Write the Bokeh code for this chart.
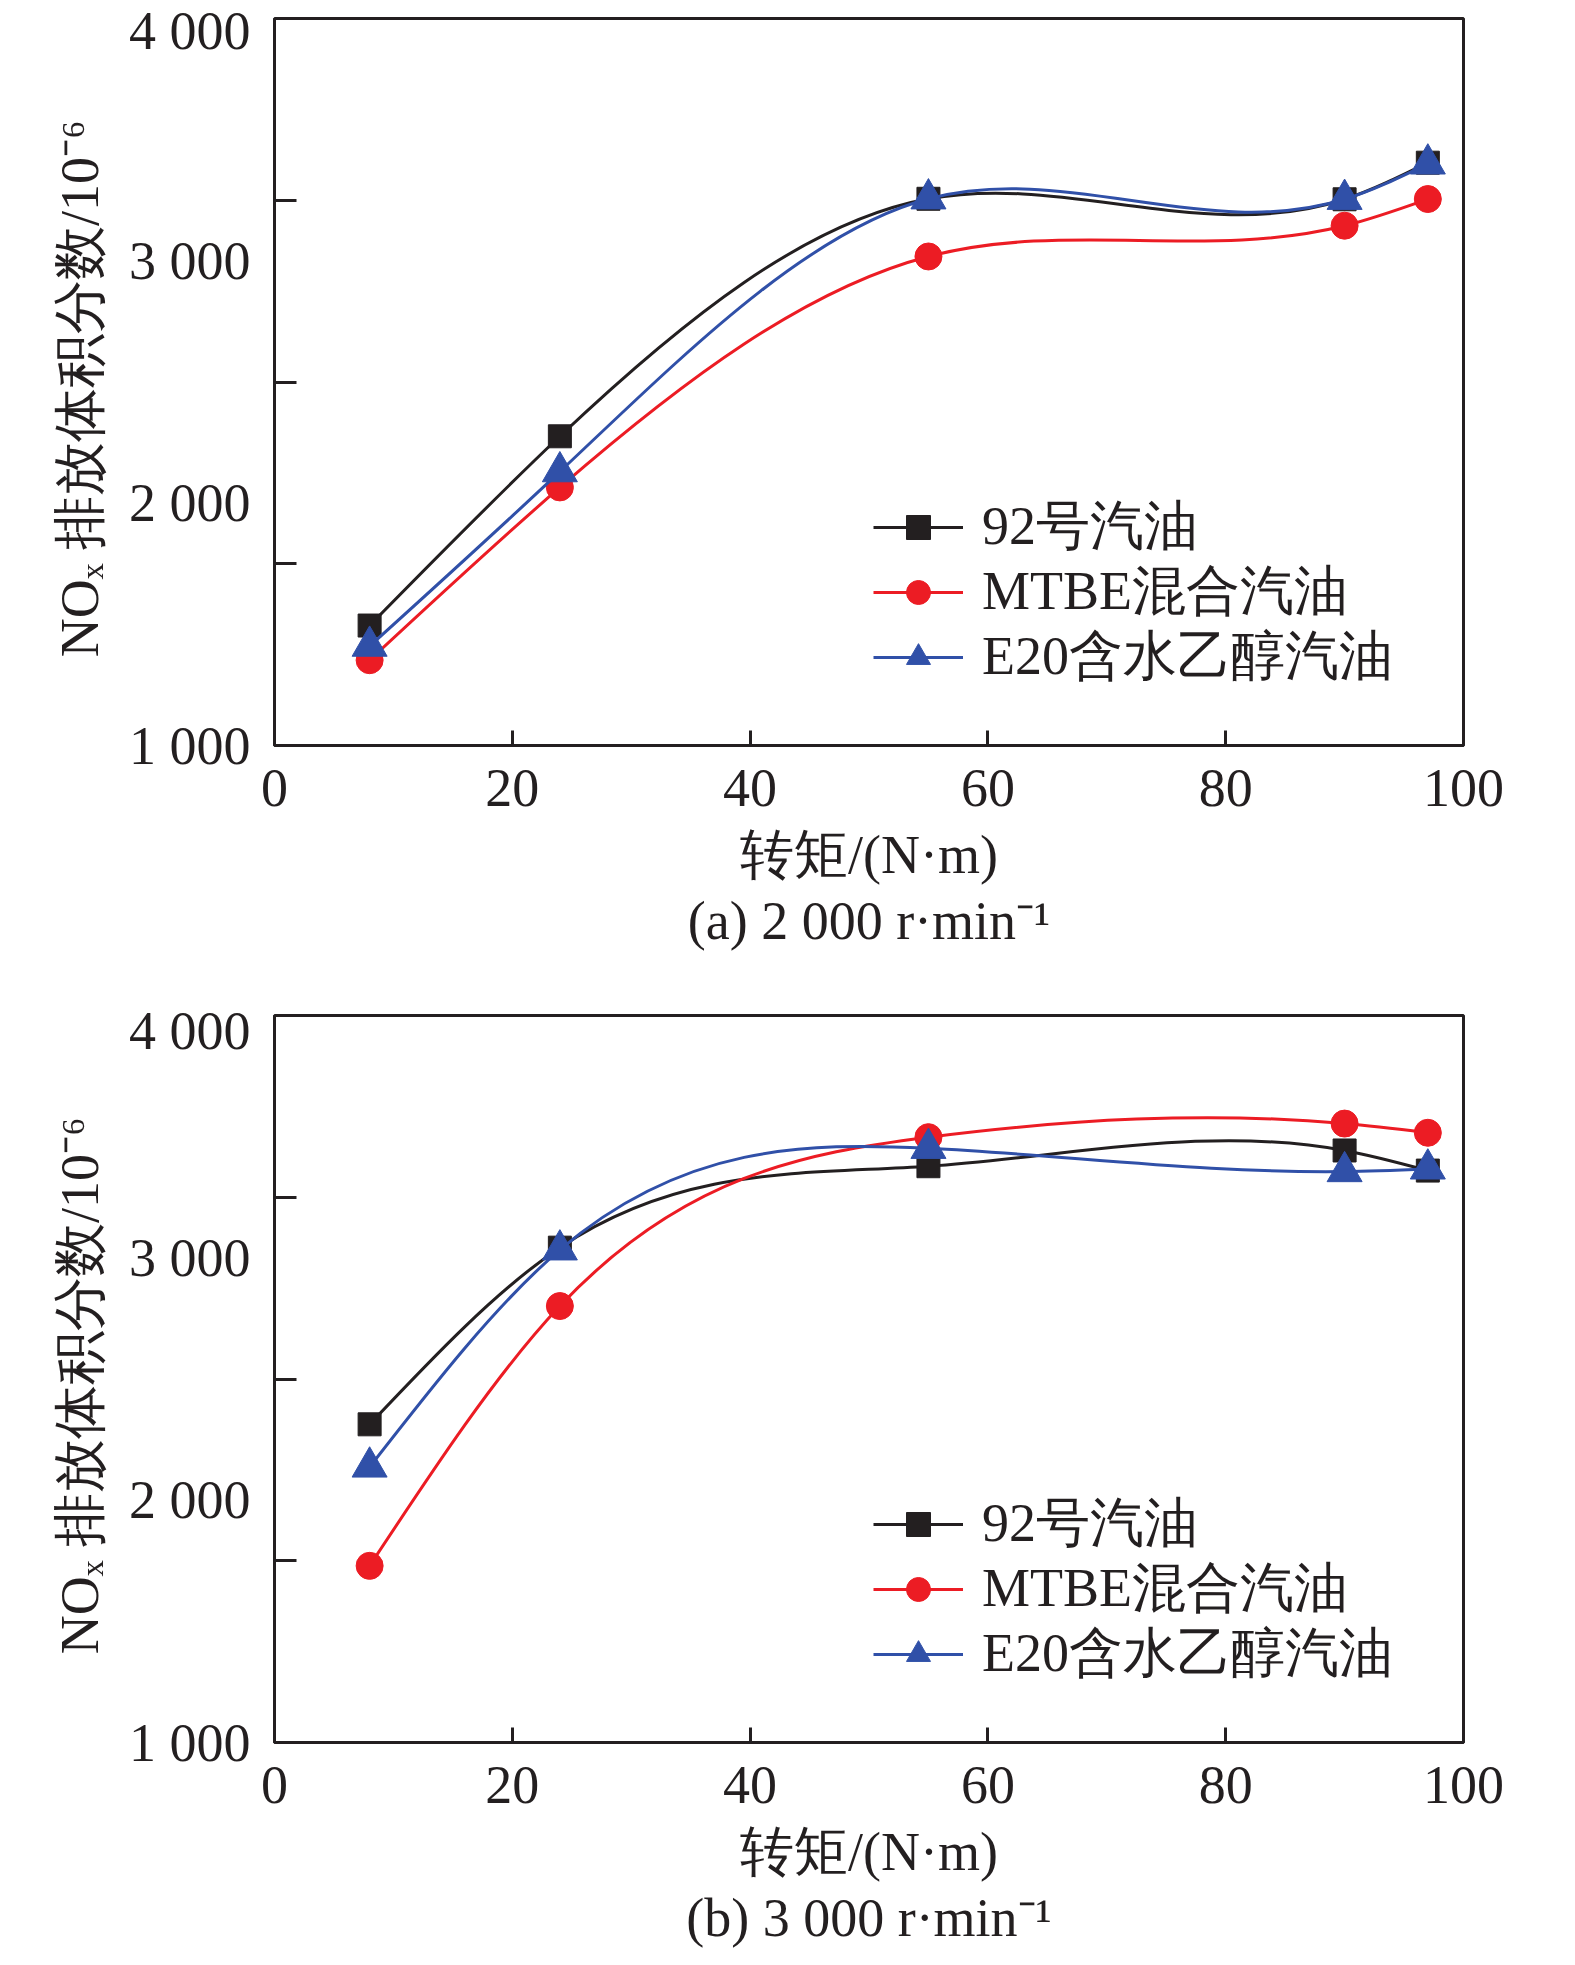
import numpy as np
from bokeh.plotting import figure
from bokeh.models import Range1d, FixedTicker, Legend, LegendItem, Title, ColumnDataSource
from bokeh.layouts import column
from bokeh.embed import file_html
from bokeh.resources import INLINE

# ---------------- data ----------------
torque = [8, 24, 55, 90, 97]

a_92 = [1495, 2276, 3256, 3254, 3405]
a_mtbe = [1352, 2065, 3018, 3145, 3255]
a_e20 = [1410, 2130, 3256, 3254, 3400]

b_92 = [2313, 3042, 3378, 3443, 3360]
b_mtbe = [1729, 2801, 3498, 3554, 3516]
b_e20 = [2137, 3033, 3452, 3356, 3367]

series_names = ["92号汽油", "MTBE混合汽油", "E20含水乙醇汽油"]
x_ticks = [0, 20, 40, 60, 80, 100]
y_ticks = [1000, 2000, 3000, 4000]
y_tick_labels = ["1 000", "2 000", "3 000", "4 000"]
y_minor_ticks = [1750, 2500, 3250]

x_label = "转矩/(N·m)"
y_label = "NOₓ 排放体积分数/10⁻⁶ "
subtitles = ["(a) 2 000 r·min⁻¹", "(b) 3 000 r·min⁻¹"]

# ---------------- style ----------------
FONT = "Liberation Serif"
INK = "#231f20"
colors = ["#231f20", "#ec1c24", "#3050a8"]
markers = ["square", "circle", "triangle"]
msizes = [23, 27, 35]
legend_offsets = [182, 117, 52]   # legend rows, px above the frame bottom
FS = "54px"


def spline_bezier(x, y):
    """Natural cubic spline through the points, expressed exactly as cubic Bezier segments."""
    x = np.asarray(x, float)
    y = np.asarray(y, float)
    n = len(x)
    h = np.diff(x)
    A = np.zeros((n, n))
    b = np.zeros(n)
    A[0, 0] = 1.0
    A[-1, -1] = 1.0
    for i in range(1, n - 1):
        A[i, i - 1] = h[i - 1]
        A[i, i] = 2 * (h[i - 1] + h[i])
        A[i, i + 1] = h[i]
        b[i] = 6 * ((y[i + 1] - y[i]) / h[i] - (y[i] - y[i - 1]) / h[i - 1])
    M = np.linalg.solve(A, b)
    s = np.diff(y) / h
    d0 = s - h * (2 * M[:-1] + M[1:]) / 6
    d1 = s + h * (M[:-1] + 2 * M[1:]) / 6
    return dict(x0=x[:-1], y0=y[:-1], x1=x[1:], y1=y[1:],
                cx0=x[:-1] + h / 3, cy0=y[:-1] + d0 * h / 3,
                cx1=x[1:] - h / 3, cy1=y[1:] - d1 * h / 3)


def make(series, subtitle, height, top, bottom):
    p = figure(width=1559, height=height,
               x_range=Range1d(0, 100), y_range=Range1d(1000, 4000),
               output_backend="svg", toolbar_location=None,
               min_border_left=274, min_border_right=96,
               min_border_top=top, min_border_bottom=bottom)
    p.xgrid.grid_line_color = None
    p.ygrid.grid_line_color = None
    p.outline_line_color = INK
    p.outline_line_width = 3
    p.background_fill_color = "white"
    p.border_fill_color = "white"

    xa = p.xaxis[0]
    xa.ticker = FixedTicker(ticks=x_ticks)
    xa.axis_line_color = INK
    xa.axis_line_width = 3
    xa.major_tick_line_color = INK
    xa.major_tick_line_width = 3
    xa.major_tick_in = 15
    xa.major_tick_out = 0
    xa.minor_tick_line_color = None
    xa.major_label_text_font = FONT
    xa.major_label_text_font_size = FS
    xa.major_label_text_color = INK
    xa.major_label_standoff = 24
    xa.axis_label = x_label
    xa.axis_label_text_font = FONT
    xa.axis_label_text_font_size = FS
    xa.axis_label_text_font_style = "normal"
    xa.axis_label_text_color = INK
    xa.axis_label_standoff = 16

    ya = p.yaxis[0]
    ya.ticker = FixedTicker(ticks=y_ticks, minor_ticks=y_minor_ticks)
    ya.major_label_overrides = {t: l for t, l in zip(y_ticks, y_tick_labels)}
    ya.axis_line_color = INK
    ya.axis_line_width = 3
    ya.major_tick_line_color = None
    ya.major_tick_in = 0
    ya.major_tick_out = 0
    ya.minor_tick_line_color = INK
    ya.minor_tick_line_width = 3
    ya.minor_tick_in = 22
    ya.minor_tick_out = 0
    ya.major_label_text_font = FONT
    ya.major_label_text_font_size = FS
    ya.major_label_text_color = INK
    ya.major_label_standoff = 24
    ya.axis_label = y_label
    ya.axis_label_text_font = FONT
    ya.axis_label_text_font_size = FS
    ya.axis_label_text_font_style = "normal"
    ya.axis_label_text_color = INK
    ya.axis_label_standoff = 16

    for name, vals, c, m, s, off in zip(series_names, series, colors, markers, msizes, legend_offsets):
        src = ColumnDataSource(spline_bezier(torque, vals))
        bz = p.bezier(x0="x0", y0="y0", x1="x1", y1="y1", cx0="cx0", cy0="cy0",
                      cx1="cx1", cy1="cy1", source=src, line_color=c, line_width=3)
        sc = p.scatter(torque, vals, marker=m, size=s, fill_color=c, line_color=c)
        leg = Legend(items=[LegendItem(label=name, renderers=[bz, sc])],
                     location=(599, off), glyph_width=90, glyph_height=60,
                     label_height=60, spacing=0, padding=0, margin=0, label_standoff=19,
                     border_line_color=None, background_fill_alpha=0,
                     label_text_font=FONT, label_text_font_size=FS, label_text_color=INK)
        p.add_layout(leg)

    p.add_layout(Title(text=subtitle, align="center", text_font=FONT, text_font_size=FS,
                       text_font_style="normal", text_color=INK, standoff=2), "below")
    return p


p1 = make([a_92, a_mtbe, a_e20], subtitles[0], 1000, 18, 255)
p2 = make([b_92, b_mtbe, b_e20], subtitles[1], 949, 15, 207)
layout = column(p1, p2, spacing=0)

open("out.html", "w").write(file_html(layout, INLINE))
